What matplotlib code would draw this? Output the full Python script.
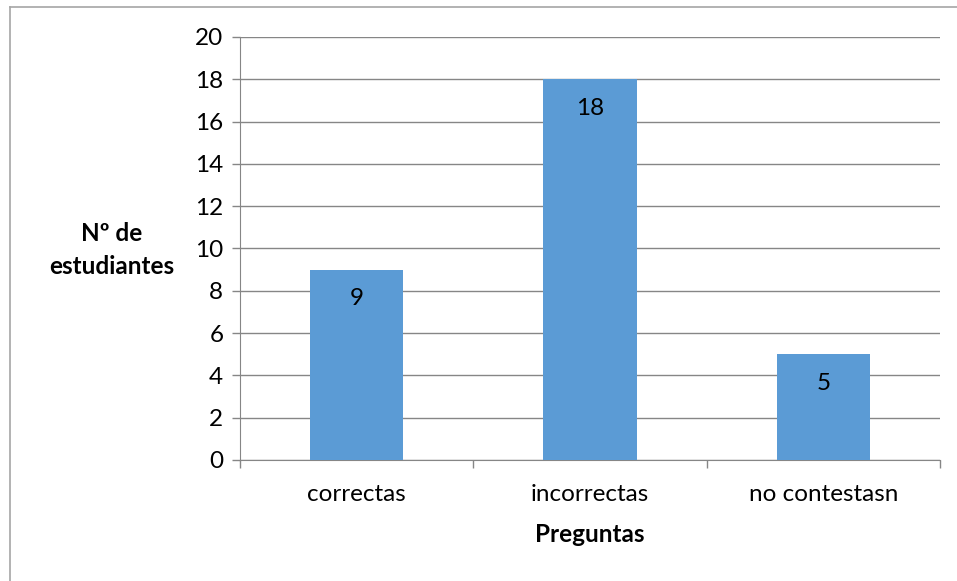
import matplotlib.pyplot as plt
from matplotlib.lines import Line2D

categories = ["correctas", "incorrectas", "no contestasn"]
values = [9, 18, 5]
yticks = list(range(0, 21, 2))

plt.rcParams["font.family"] = ["Lato", "DejaVu Sans"]
fs = 17.5

fig = plt.figure(figsize=(9.57, 5.81), dpi=100)
ax = fig.add_axes([240 / 957, 1 - 460 / 581, 700 / 957, 423 / 581])

x = range(len(categories))
ax.bar(x, values, width=0.4, color="#5B9BD5", zorder=3)
for xi, v in zip(x, values):
    ax.annotate(str(v), (xi, v), xytext=(0, -21), textcoords="offset points",
                ha="center", va="center", fontsize=fs, zorder=4)

ax.set_xlim(-0.5, len(categories) - 0.5)
ax.set_ylim(0, 20)
ax.set_yticks(yticks)
ax.set_xticks(list(x))
ax.set_xticklabels(categories)
ax.set_xticks([i - 0.5 for i in range(len(categories) + 1)], minor=True)
ax.tick_params(axis="x", which="major", length=0, pad=17, labelsize=fs)
ax.tick_params(axis="x", which="minor", length=6, color="#868686", width=1)
ax.tick_params(axis="y", length=6, color="#868686", width=1, pad=6, labelsize=fs)
ax.grid(axis="y", color="#868686", linewidth=1, zorder=0)

for s in ["top", "right"]:
    ax.spines[s].set_visible(False)
for s in ["left", "bottom"]:
    ax.spines[s].set_color("#868686")

ax.set_xlabel("Preguntas", fontsize=fs, fontweight="bold", labelpad=13)
fig.text(112 / 957, 1 - 250 / 581, "Nº de\nestudiantes", ha="center", va="center",
         fontsize=fs, fontweight="bold", linespacing=1.5)

# chart area border (left and top edges visible)
fig.add_artist(Line2D([10 / 957, 10 / 957], [0, 1 - 7 / 581], transform=fig.transFigure,
                      color="#A6A6A6", linewidth=1.2))
fig.add_artist(Line2D([10 / 957, 1], [1 - 7 / 581, 1 - 7 / 581], transform=fig.transFigure,
                      color="#A6A6A6", linewidth=1.2))

fig.savefig("out.png", dpi=100)
